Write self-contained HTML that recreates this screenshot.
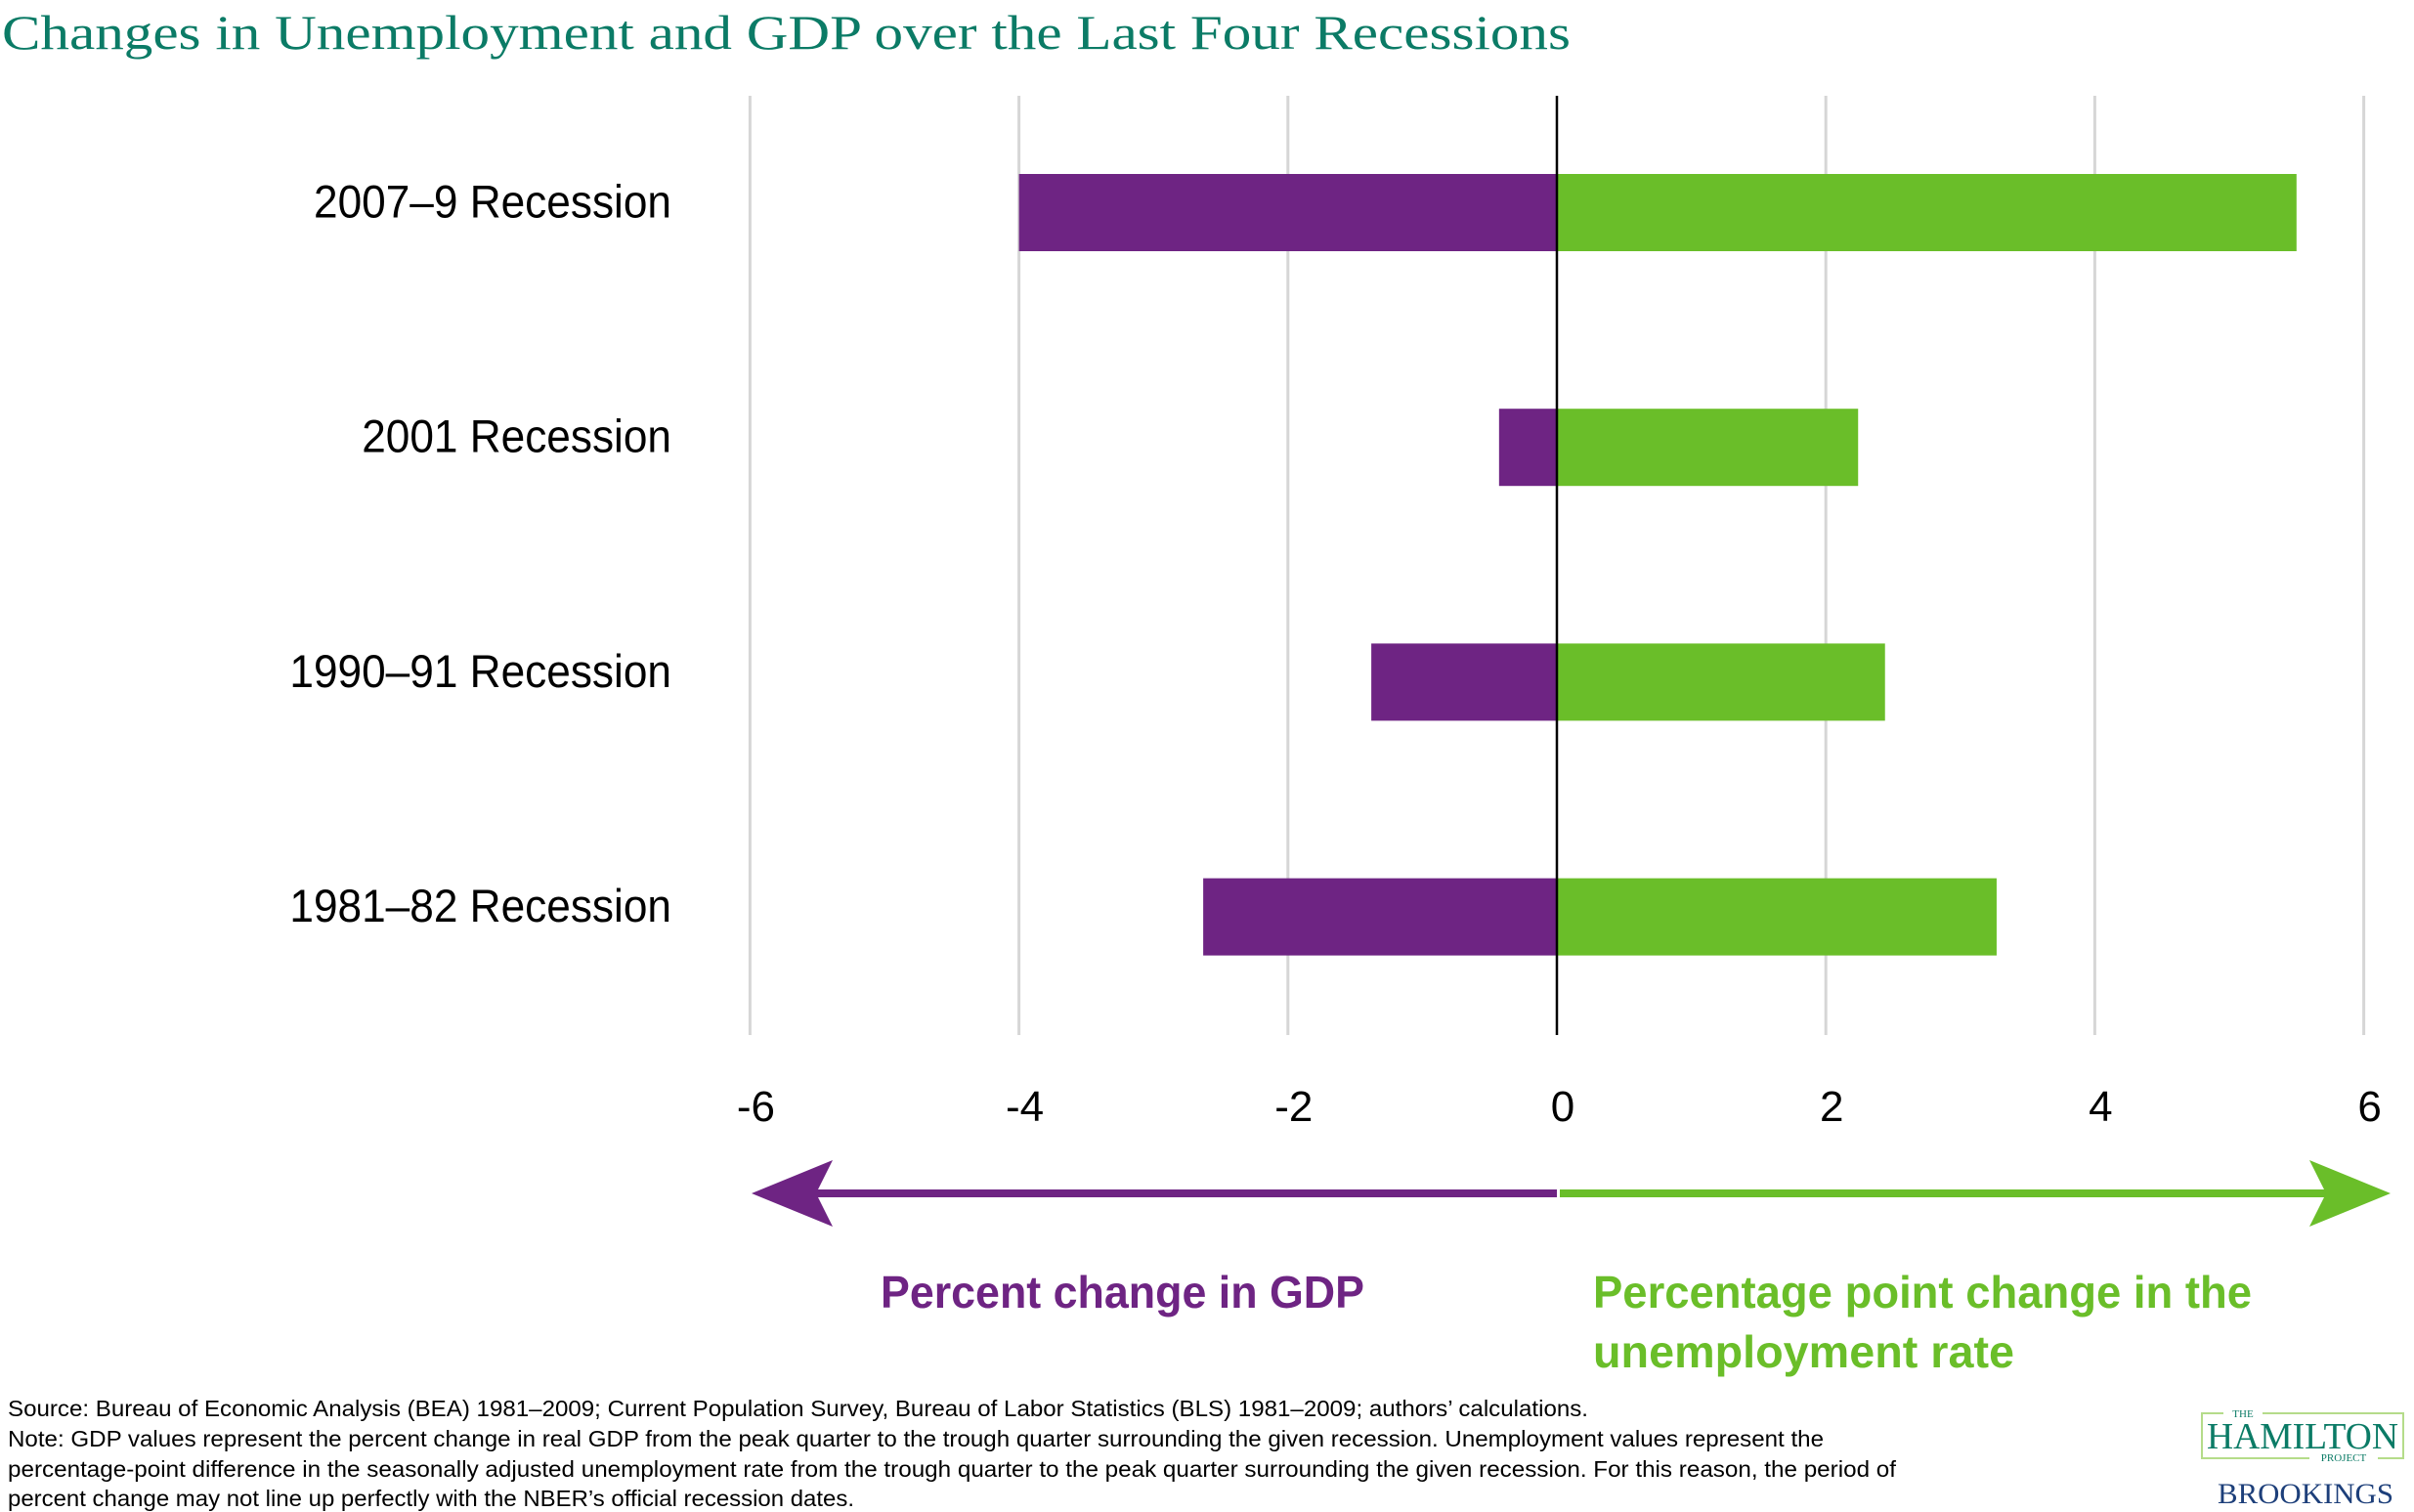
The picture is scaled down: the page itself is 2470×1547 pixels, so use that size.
<!DOCTYPE html>
<html><head><meta charset="utf-8"><style>
html,body{margin:0;padding:0;background:#fff;}
svg{display:block;}
</style></head><body>
<svg id="chart" width="2470" height="1547" viewBox="0 0 2470 1547" xmlns="http://www.w3.org/2000/svg">
<text x="2" y="50" font-family="Liberation Serif, serif" font-size="50" fill="#0b7b66" textLength="1605" lengthAdjust="spacingAndGlyphs">Changes in Unemployment and GDP over the Last Four Recessions</text>
<g id="grid"></g>
<g id="bars"></g>
<g id="ylabels"></g>
<g id="xticks"></g>
<line id="zero" stroke="#000" stroke-width="2.5"/>
<g>
<line x1="830" y1="1221" x2="1593" y2="1221" stroke="#6e2483" stroke-width="8"/>
<polygon points="769,1221 852,1187 835,1221 852,1255" fill="#6e2483"/>
<line x1="1596" y1="1221" x2="2385" y2="1221" stroke="#6abe29" stroke-width="8"/>
<polygon points="2446,1221 2363,1187 2380,1221 2363,1255" fill="#6abe29"/>
</g>
<text x="901" y="1338" font-family="Liberation Sans, sans-serif" font-weight="bold" font-size="46" fill="#6e2483" textLength="495" lengthAdjust="spacingAndGlyphs">Percent change in GDP</text>
<text x="1630" y="1338" font-family="Liberation Sans, sans-serif" font-weight="bold" font-size="46" fill="#6abe29" textLength="674" lengthAdjust="spacingAndGlyphs">Percentage point change in the</text>
<text x="1630" y="1399" font-family="Liberation Sans, sans-serif" font-weight="bold" font-size="46" fill="#6abe29" textLength="431" lengthAdjust="spacingAndGlyphs">unemployment rate</text>
<g font-family="Liberation Sans, sans-serif" font-size="23" fill="#000">
<text x="8" y="1449" textLength="1617" lengthAdjust="spacingAndGlyphs">Source: Bureau of Economic Analysis (BEA) 1981–2009; Current Population Survey, Bureau of Labor Statistics (BLS) 1981–2009; authors’ calculations.</text>
<text x="8" y="1480" textLength="1858" lengthAdjust="spacingAndGlyphs">Note: GDP values represent the percent change in real GDP from the peak quarter to the trough quarter surrounding the given recession. Unemployment values represent the</text>
<text x="8" y="1511" textLength="1932" lengthAdjust="spacingAndGlyphs">percentage-point difference in the seasonally adjusted unemployment rate from the trough quarter to the peak quarter surrounding the given recession. For this reason, the period of</text>
<text x="8" y="1541" textLength="866" lengthAdjust="spacingAndGlyphs">percent change may not line up perfectly with the NBER’s official recession dates.</text>
</g>
<g>
<rect x="2253" y="1446" width="206" height="46" fill="none" stroke="#b5dc8a" stroke-width="2"/>
<rect x="2275" y="1440" width="40" height="12" fill="#fff"/>
<rect x="2363" y="1486" width="70" height="12" fill="#fff"/>
<text x="2295" y="1450" text-anchor="middle" font-family="Liberation Serif, serif" font-size="11" fill="#0b7b66">THE</text>
<text x="2356" y="1482" text-anchor="middle" font-family="Liberation Serif, serif" font-size="38" fill="#0b7b66" textLength="196" lengthAdjust="spacingAndGlyphs">HAMILTON</text>
<text x="2398" y="1495" text-anchor="middle" font-family="Liberation Serif, serif" font-size="11" fill="#0b7b66">PROJECT</text>
<text x="2359" y="1538" text-anchor="middle" font-family="Liberation Serif, serif" font-size="30" fill="#1d3f7a" textLength="180" lengthAdjust="spacingAndGlyphs">BROOKINGS</text>
</g>
</svg>
<script>
const categories = ["2007–9 Recession","2001 Recession","1990–91 Recession","1981–82 Recession"];
const gdpValues = [-4.0, -0.43, -1.38, -2.63];
const unempValues = [5.5, 2.24, 2.44, 3.27];
const tickValues = [-6,-4,-2,0,2,4,6];
const tickLabels = ["-6","-4","-2","0","2","4","6"];

const NS = "http://www.w3.org/2000/svg";
const plotTop = 98, plotBottom = 1059;
function xScale(v){ return 1593 + v * 137.6; }
function yCenter(i){ return 217.5 + i * 240.2; }
const barH = 79;
function mk(tag, attrs, parent){
  const el = document.createElementNS(NS, tag);
  for (const k in attrs) el.setAttribute(k, attrs[k]);
  parent.appendChild(el);
  return el;
}
const grid = document.getElementById('grid');
const xt = document.getElementById('xticks');
tickValues.forEach((v, i) => {
  if (v !== 0) {
    const l = mk('line', {x1: xScale(v), x2: xScale(v), y1: plotTop, y2: plotBottom, stroke: '#d6d6d6', 'stroke-width': 3}, grid);
    
    
  }
  const t = mk('text', {x: xScale(v) + 6, y: 1147, 'text-anchor': 'middle', 'font-family': 'Liberation Sans, sans-serif', 'font-size': 44, fill: '#000'}, xt);
  t.textContent = tickLabels[i];
  
  
});
const z = document.getElementById('zero');
z.setAttribute('x1', xScale(0)); z.setAttribute('x2', xScale(0));
z.setAttribute('y1', plotTop); z.setAttribute('y2', plotBottom);

const bars = document.getElementById('bars');
const yl = document.getElementById('ylabels');
categories.forEach((c, i) => {
  const yc = yCenter(i);
  const g = gdpValues[i];
  const r1 = mk('rect', {x: Math.min(xScale(g), xScale(0)), y: yc - barH/2, width: Math.abs(xScale(g) - xScale(0)), height: barH, fill: '#6e2483'}, bars);
  
  
  const u = unempValues[i];
  const r2 = mk('rect', {x: Math.min(xScale(u), xScale(0)), y: yc - barH/2, width: Math.abs(xScale(u) - xScale(0)), height: barH, fill: '#6abe29'}, bars);
  
  
  const t = mk('text', {x: 687, y: yc + 5, 'text-anchor': 'end', 'font-family': 'Liberation Sans, sans-serif', 'font-size': 47, fill: '#000'}, yl);
  t.textContent = c;
  
  
  const w = t.getComputedTextLength();
  if (w > 0) {
    t.setAttribute('textLength', (w * 0.94).toFixed(1));
    t.setAttribute('lengthAdjust', 'spacingAndGlyphs');
  }
});
</script>
</body></html>
